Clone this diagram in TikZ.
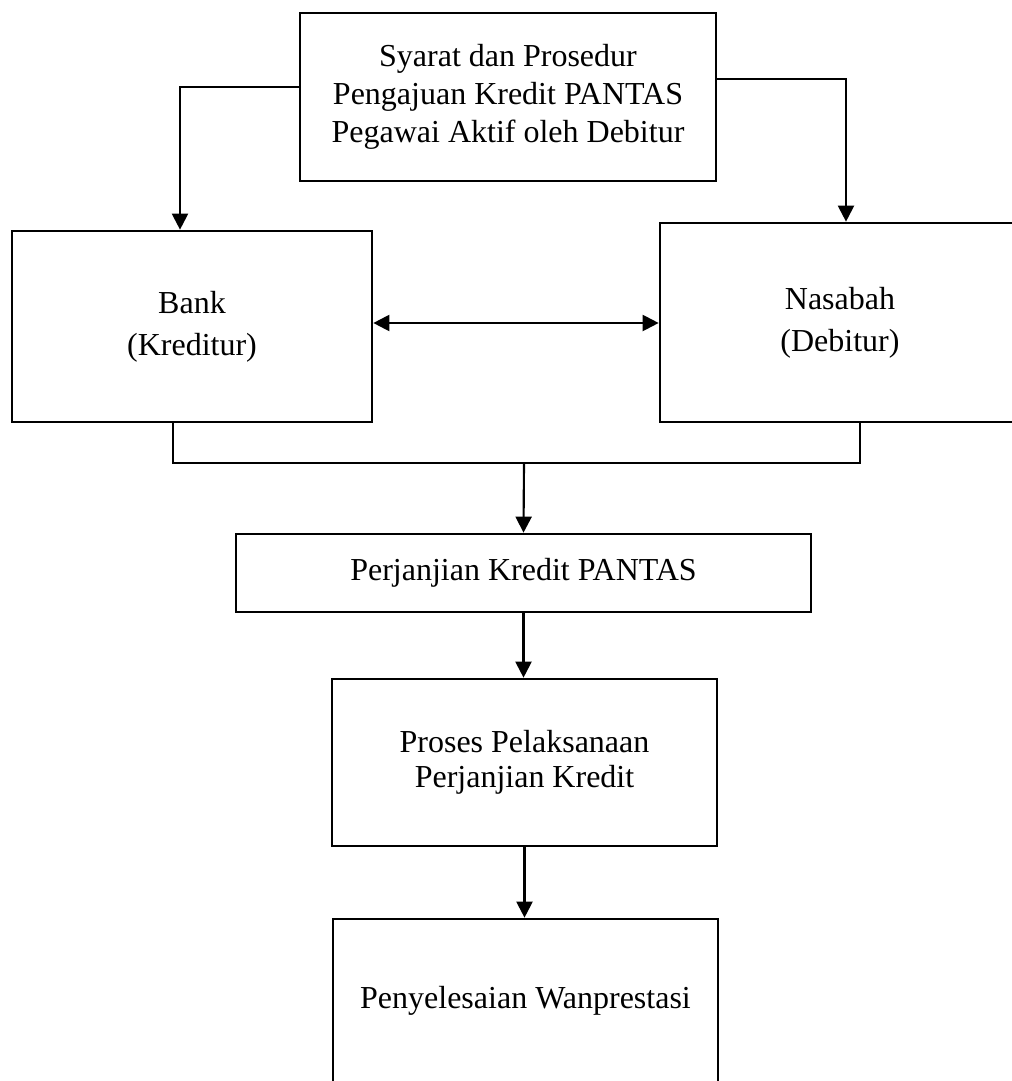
\documentclass[tikz,border=0pt]{standalone}
\usepackage{fontspec}
\setmainfont{Liberation Serif}
\usetikzlibrary{arrows.meta,calc}

\begin{document}
\begin{tikzpicture}[x=0.375pt,y=-0.375pt,
    box/.style={draw,line width=1pt,align=center,inner sep=0pt,font=\fontsize{12}{13.2}\selectfont},
    wide/.style={font=\fontsize{12}{15.8}\selectfont},
    sz/.style 2 args={minimum width=#1*0.375pt,minimum height=#2*0.375pt},
    arr/.style={line width=0.8pt,-{Triangle[length=6pt,width=6pt]}},
    both/.style={line width=0.8pt,{Triangle[length=6pt,width=6pt]}-{Triangle[length=6pt,width=6pt]}}]
  \useasboundingbox (0,0) rectangle (1011,1081);
  \node[box,font=\fontsize{12}{14.2}\selectfont,sz={416}{168}] (syarat) at (508,97) {Syarat dan Prosedur\\Pengajuan Kredit PANTAS\\Pegawai Aktif oleh Debitur};
  \node[box,wide,sz={360}{191}]  (bank)    at (192,326.5) {Bank\\(Kreditur)};
  \node[box,wide,sz={360}{199}]  (nasabah) at (840,322.5) {Nasabah\\(Debitur)};
  \node[box,sz={575}{78}]        (perj)    at (523.5,573) {Perjanjian Kredit PANTAS};
  \node[box,sz={385}{167}]       (proses)  at (524.5,762.5) {Proses Pelaksanaan\\Perjanjian Kredit};
  \node[box,sz={385}{164}]       (selesai) at (525.5,1001) {Penyelesaian Wanprestasi};
  \coordinate (gabung) at (524,463);

  % dari syarat ke para pihak
  \draw[arr] (syarat.west |- 0,87) -| (bank.north -| 180,0);
  \draw[arr] (syarat.east |- 0,79) -| (nasabah.north -| 846,0);
  \draw[both] (bank.east |- 0,323) -- (nasabah.west |- 0,323);
  % pertemuan
  \draw[line width=0.5pt] (bank.south -| 173,0) |- (gabung) -| (nasabah.south -| 860,0);
  \draw[arr] (gabung) -- (perj.north);
  \draw[arr] (perj.south) -- (perj.south |- proses.north);
  \draw[arr] (proses.south) -- (proses.south |- selesai.north);
\end{tikzpicture}
\end{document}
